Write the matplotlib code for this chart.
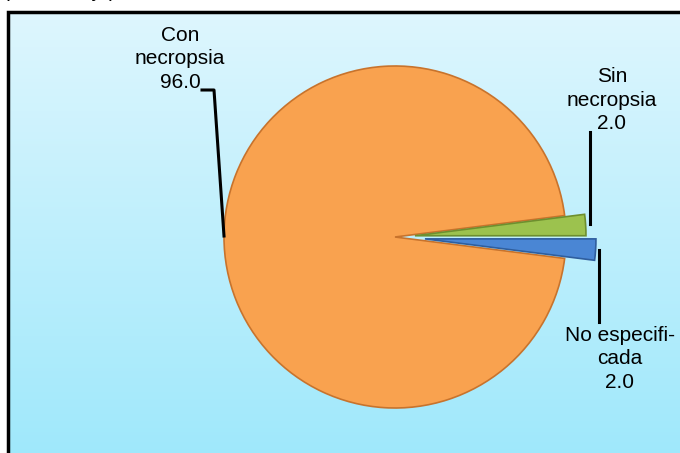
import numpy as np
import matplotlib
matplotlib.use("Agg")
from matplotlib import pyplot as plt
from matplotlib.patches import Rectangle

plt.rcParams['font.family'] = ['Liberation Sans', 'DejaVu Sans']

labels = ['Con\nnecropsia', 'Sin\nnecropsia', 'No especifi-\ncada']
values = [96.0, 2.0, 2.0]
colors = ['#F9A24F', '#9CC24E', '#4A86D4']
edges = ['#C8732C', '#6E8F2E', '#2F5E9E']
explode = [0.0, 20, 30]   # offsets in pixels

W, H = 680, 453


def py(y):
    # pixel row (from top) -> data y
    return H - y


fig = plt.figure(figsize=(6.8, 4.53), dpi=100)
ax = fig.add_axes([0, 0, 1, 1])

# background gradient inside the frame
grad = np.linspace(0, 1, 256).reshape(-1, 1)
top = np.array([0.87, 0.965, 0.995])
bot = np.array([0.62, 0.91, 0.985])
img = top + (bot - top) * grad[:, :, None]
ax.imshow(img, extent=[8, W + 10, py(H + 10), py(12)], aspect='auto', zorder=0)
ax.add_patch(Rectangle((8, py(H + 10)), W, H - 2, fill=False, ec='black', lw=2.5, zorder=5))

ax.text(3, py(-3), '(Porcentaje)', fontsize=15, ha='left', va='baseline')

wedges, _ = ax.pie(values, colors=colors, explode=explode, startangle=-7.2,
                   counterclock=False, center=(395, py(237)), radius=171,
                   frame=True, wedgeprops=dict(linewidth=1.2))
for w, ec in zip(wedges, edges):
    w.set_edgecolor(ec)
ax.set_xlim(0, W)
ax.set_ylim(0, H)
ax.set_aspect('equal')
ax.axis('off')

# labels and leader lines
txt = dict(fontsize=15, ha='center', va='center', linespacing=1.3)
ax.text(180, py(59), labels[0] + '\n%.1f' % values[0], **txt)
ax.plot([202, 214, 224], [py(90), py(90), py(236)], color='black', lw=2.2)

ax.text(612, py(100), labels[1] + '\n%.1f' % values[1], **txt)
ax.plot([590, 590], [py(132), py(224)], color='black', lw=2.2)

ax.text(620, py(359), labels[2] + '\n%.1f' % values[2], **txt)
ax.plot([599, 599], [py(250), py(322)], color='black', lw=2.2)

fig.savefig('out.png', dpi=100)
